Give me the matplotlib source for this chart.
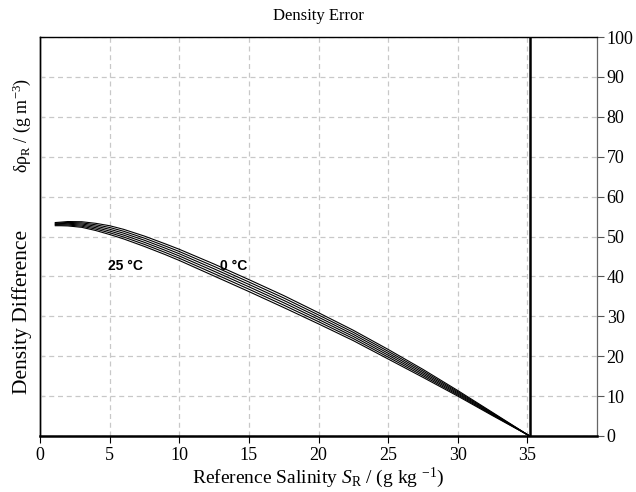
import matplotlib
matplotlib.use("Agg")
import matplotlib.pyplot as plt

plt.rcParams['font.family'] = ['Liberation Serif', 'DejaVu Serif']
plt.rcParams['mathtext.fontset'] = 'custom'
plt.rcParams['mathtext.rm'] = 'Liberation Serif'
plt.rcParams['mathtext.it'] = 'Liberation Serif:italic'
plt.rcParams['mathtext.bf'] = 'Liberation Serif:bold'

# Reference salinity (g/kg) and density differences (g/m^3) for six temperatures
salinity = [1.1, 1.5, 2.0, 3.0, 4.0, 5.0, 6.0, 7.5, 9.0, 10.0, 12.5, 15.0,
            17.5, 20.0, 22.5, 25.0, 27.5, 30.0, 32.5, 35.16504]
temps = [0, 5, 10, 15, 20, 25]
d_t0 = [53.50, 53.60, 53.75, 53.70, 53.30, 52.70, 51.80, 50.10, 48.15, 46.80,
        43.10, 39.20, 35.20, 30.90, 26.50, 21.70, 16.70, 11.40, 5.90, 0.0]
d_t5 = [53.34, 53.42, 53.53, 53.42, 52.94, 52.26, 51.32, 49.58, 47.61, 46.24,
        42.50, 38.60, 34.60, 30.34, 25.98, 21.22, 16.30, 11.12, 5.74, 0.0]
d_t10 = [53.18, 53.24, 53.31, 53.14, 52.58, 51.82, 50.84, 49.06, 47.07, 45.68,
         41.90, 38.00, 34.00, 29.78, 25.46, 20.74, 15.90, 10.84, 5.58, 0.0]
d_t15 = [53.02, 53.06, 53.09, 52.86, 52.22, 51.38, 50.36, 48.54, 46.53, 45.12,
         41.30, 37.40, 33.40, 29.22, 24.94, 20.26, 15.50, 10.56, 5.42, 0.0]
d_t20 = [52.86, 52.88, 52.87, 52.58, 51.86, 50.94, 49.88, 48.02, 45.99, 44.56,
         40.70, 36.80, 32.80, 28.66, 24.42, 19.78, 15.10, 10.28, 5.26, 0.0]
d_t25 = [52.70, 52.70, 52.65, 52.30, 51.50, 50.50, 49.40, 47.50, 45.45, 44.00,
         40.10, 36.20, 32.20, 28.10, 23.90, 19.30, 14.70, 10.00, 5.10, 0.0]
curves = [d_t0, d_t5, d_t10, d_t15, d_t20, d_t25]

standard_salinity = 35.16504
x_ticks = [0, 5, 10, 15, 20, 25, 30, 35]
y_ticks = [0, 10, 20, 30, 40, 50, 60, 70, 80, 90, 100]

fig = plt.figure(figsize=(6.36, 4.92), dpi=100)
ax = fig.add_axes([40/636, 56/492, 557/636, 399/492])

for d in curves:
    ax.plot(salinity, d, color='black', lw=0.8, solid_joinstyle='round')

ax.axvline(standard_salinity, color='black', lw=1.8)

ax.set_xlim(0, 40)
ax.set_ylim(0, 100)
ax.set_xticks(x_ticks)
ax.set_yticks(y_ticks)
ax.grid(True, color='#c8c8c8', ls=(0, (4, 3)), lw=0.9)

ax.yaxis.tick_right()
ax.tick_params(axis='y', which='both', right=True, left=False, labelright=True,
               labelleft=False, direction='out', length=5, color='#555555',
               labelsize=13, pad=2)
ax.tick_params(axis='x', direction='out', length=5, labelsize=13, pad=3)

for side in ['left', 'top']:
    ax.spines[side].set_linewidth(1.0)
ax.spines['bottom'].set_linewidth(1.8)
ax.spines['right'].set_color('#666666')
ax.spines['right'].set_linewidth(0.9)

# inward ticks along the left spine
sec = ax.secondary_yaxis('left')
sec.set_yticks(y_ticks)
sec.tick_params(direction='in', length=3, labelleft=False, color='#888888')
sec.spines['left'].set_linewidth(1.0)

ax.text(6.1, 42.5, '25 °C', family='Liberation Sans', fontweight='bold',
        fontsize=10, ha='center', va='center')
ax.text(13.9, 42.5, '0 °C', family='Liberation Sans', fontweight='bold',
        fontsize=10, ha='center', va='center')

fig.text(318/636, 1 - 16/492, 'Density Error', ha='center', va='center',
         fontsize=12)
ax.set_xlabel(r'Reference Salinity $\mathit{S}_\mathrm{R}$ / (g kg $^{-1}$)',
              fontsize=14, labelpad=1)
fig.text(22/636, 1 - 312/492, 'Density Difference', rotation=90,
         ha='center', va='center', fontsize=15.5)
fig.text(22/636, 1 - 125/492, r'δρ$_\mathrm{R}$ / (g m$^{-3}$)',
         rotation=90, ha='center', va='center', fontsize=13)

fig.savefig('out.png', dpi=100)
